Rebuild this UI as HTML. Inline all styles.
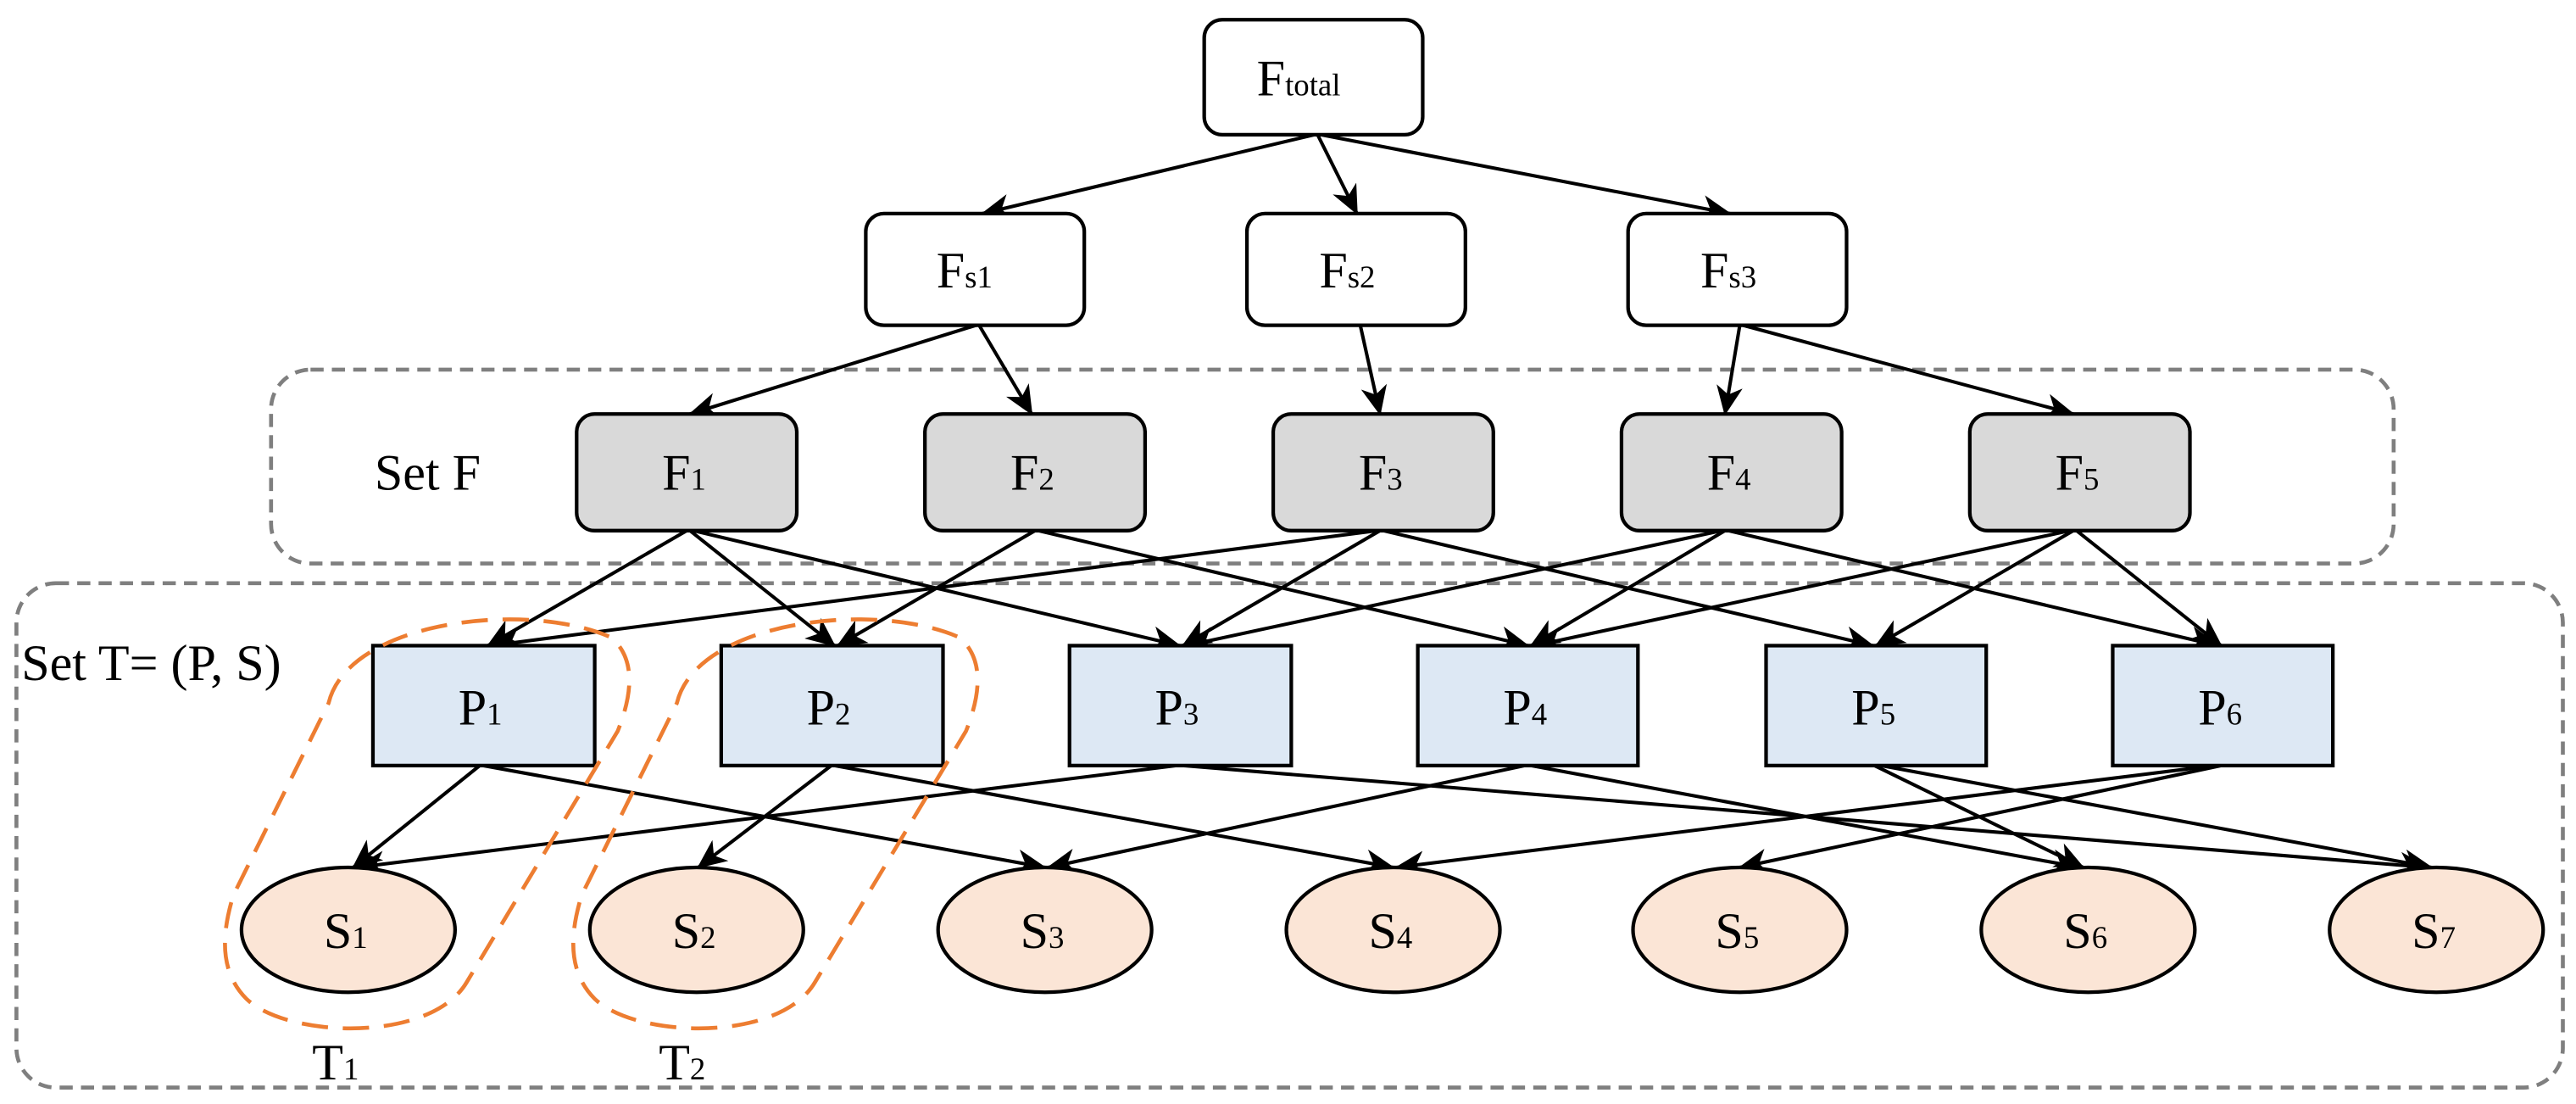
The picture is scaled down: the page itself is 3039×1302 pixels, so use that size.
<!DOCTYPE html>
<html><head><meta charset="utf-8"><style>
html,body{margin:0;padding:0;background:#fff;}
svg{display:block;}
text{font-family:"Liberation Serif",serif;fill:#000;}
</style></head><body>
<svg width="3039" height="1302" viewBox="0 0 1568 672" preserveAspectRatio="none" xmlns="http://www.w3.org/2000/svg">
<defs>
<marker id="a" markerUnits="userSpaceOnUse" markerWidth="18" markerHeight="16" refX="17" refY="8" orient="auto">
<path d="M0,0 L18,8 L0,16 L5,8 Z" fill="#000"/>
</marker>
</defs>
<rect x="165" y="225" width="1292" height="118" rx="24" fill="none" stroke="#7f7f7f" stroke-width="2.4" stroke-dasharray="8,5"/>
<rect x="10" y="355" width="1550" height="307" rx="24" fill="none" stroke="#7f7f7f" stroke-width="2.4" stroke-dasharray="8,5"/>

<g stroke="#000" stroke-width="2.1" fill="none" marker-end="url(#a)">
<line x1="800" y1="82" x2="598" y2="130"/>
<line x1="802" y1="82" x2="826" y2="130"/>
<line x1="804" y1="82" x2="1053" y2="130"/>
<line x1="594" y1="198" x2="420" y2="252"/>
<line x1="596" y1="198" x2="628" y2="252"/>
<line x1="828" y1="198" x2="840" y2="252"/>
<line x1="1059" y1="198" x2="1050" y2="252"/>
<line x1="1061" y1="198" x2="1262" y2="252"/>

<line x1="418" y1="323" x2="297" y2="393"/>
<line x1="420" y1="323" x2="508" y2="393"/>
<line x1="422" y1="323" x2="718" y2="393"/>
<line x1="630" y1="323" x2="510" y2="393"/>
<line x1="632" y1="323" x2="930" y2="393"/>
<line x1="838" y1="323" x2="299" y2="393"/>
<line x1="840" y1="323" x2="720" y2="393"/>
<line x1="842" y1="323" x2="1140" y2="393"/>
<line x1="1048" y1="323" x2="722" y2="393"/>
<line x1="1050" y1="323" x2="932" y2="393"/>
<line x1="1052" y1="323" x2="1350" y2="393"/>
<line x1="1260" y1="323" x2="934" y2="393"/>
<line x1="1262" y1="323" x2="1142" y2="393"/>
<line x1="1264" y1="323" x2="1352" y2="393"/>

<line x1="292" y1="466" x2="215" y2="528"/>
<line x1="294" y1="466" x2="636" y2="528"/>
<line x1="506" y1="466" x2="425" y2="528"/>
<line x1="508" y1="466" x2="848" y2="528"/>
<line x1="716" y1="466" x2="217" y2="528"/>
<line x1="720" y1="466" x2="1478" y2="528"/>
<line x1="928" y1="466" x2="638" y2="528"/>
<line x1="932" y1="466" x2="1266" y2="528"/>
<line x1="1141" y1="466" x2="1268" y2="528"/>
<line x1="1145" y1="466" x2="1480" y2="528"/>
<line x1="1348" y1="466" x2="850" y2="528"/>
<line x1="1352" y1="466" x2="1059" y2="528"/>
</g>

<g stroke="#000" stroke-width="2.2" fill="#fff">
<rect x="733" y="12" width="133" height="70" rx="11"/>
<rect x="527" y="130" width="133" height="68" rx="11"/>
<rect x="759" y="130" width="133" height="68" rx="11"/>
<rect x="991" y="130" width="133" height="68" rx="11"/>
</g>
<g stroke="#000" stroke-width="2.2" fill="#d9d9d9">
<rect x="351" y="252" width="134" height="71" rx="11"/>
<rect x="563" y="252" width="134" height="71" rx="11"/>
<rect x="775" y="252" width="134" height="71" rx="11"/>
<rect x="987" y="252" width="134" height="71" rx="11"/>
<rect x="1199" y="252" width="134" height="71" rx="11"/>
</g>
<g stroke="#000" stroke-width="2.2" fill="#dde8f4">
<rect x="227" y="393" width="135" height="73"/>
<rect x="439" y="393" width="135" height="73"/>
<rect x="651" y="393" width="135" height="73"/>
<rect x="863" y="393" width="134" height="73"/>
<rect x="1075" y="393" width="134" height="73"/>
<rect x="1286" y="393" width="134" height="73"/>
</g>
<g stroke="#000" stroke-width="2.2" fill="#fbe5d6">
<ellipse cx="212" cy="566" rx="65" ry="38"/>
<ellipse cx="424" cy="566" rx="65" ry="38"/>
<ellipse cx="636" cy="566" rx="65" ry="38"/>
<ellipse cx="848" cy="566" rx="65" ry="38"/>
<ellipse cx="1059" cy="566" rx="65" ry="38"/>
<ellipse cx="1271" cy="566" rx="65" ry="38"/>
<ellipse cx="1483" cy="566" rx="65" ry="38"/>
</g>

<g fill="none" stroke="#ed7d31" stroke-width="2.4" stroke-dasharray="16,9">
<path d="M200 428 C212 378 320 365 372 388 C386 400 386 420 376 445 L284 598 C262 635 175 632 150 608 C132 590 136 565 142 545 Z"/>
<path d="M412 428 C424 378 532 365 584 388 C598 400 598 420 588 445 L496 598 C474 635 387 632 362 608 C344 590 348 565 354 545 Z"/>
</g>

<g font-size="31">
<text x="765" y="58">F<tspan font-size="19">total</tspan></text>
<text x="570" y="175">F<tspan font-size="19">s1</tspan></text>
<text x="803" y="175">F<tspan font-size="19">s2</tspan></text>
<text x="1035" y="175">F<tspan font-size="19">s3</tspan></text>
<text x="403" y="298">F<tspan font-size="19">1</tspan></text>
<text x="615" y="298">F<tspan font-size="19">2</tspan></text>
<text x="827" y="298">F<tspan font-size="19">3</tspan></text>
<text x="1039" y="298">F<tspan font-size="19">4</tspan></text>
<text x="1251" y="298">F<tspan font-size="19">5</tspan></text>
<text x="279" y="441">P<tspan font-size="19">1</tspan></text>
<text x="491" y="441">P<tspan font-size="19">2</tspan></text>
<text x="703" y="441">P<tspan font-size="19">3</tspan></text>
<text x="915" y="441">P<tspan font-size="19">4</tspan></text>
<text x="1127" y="441">P<tspan font-size="19">5</tspan></text>
<text x="1338" y="441">P<tspan font-size="19">6</tspan></text>
<text x="197" y="577">S<tspan font-size="19">1</tspan></text>
<text x="409" y="577">S<tspan font-size="19">2</tspan></text>
<text x="621" y="577">S<tspan font-size="19">3</tspan></text>
<text x="833" y="577">S<tspan font-size="19">4</tspan></text>
<text x="1044" y="577">S<tspan font-size="19">5</tspan></text>
<text x="1256" y="577">S<tspan font-size="19">6</tspan></text>
<text x="1468" y="577">S<tspan font-size="19">7</tspan></text>
<text x="228" y="298">Set F</text>
<text x="13" y="414">Set T= (P, S)</text>
<text x="190" y="657">T<tspan font-size="19">1</tspan></text>
<text x="401" y="657">T<tspan font-size="19">2</tspan></text>
</g>
</svg>
</body></html>
